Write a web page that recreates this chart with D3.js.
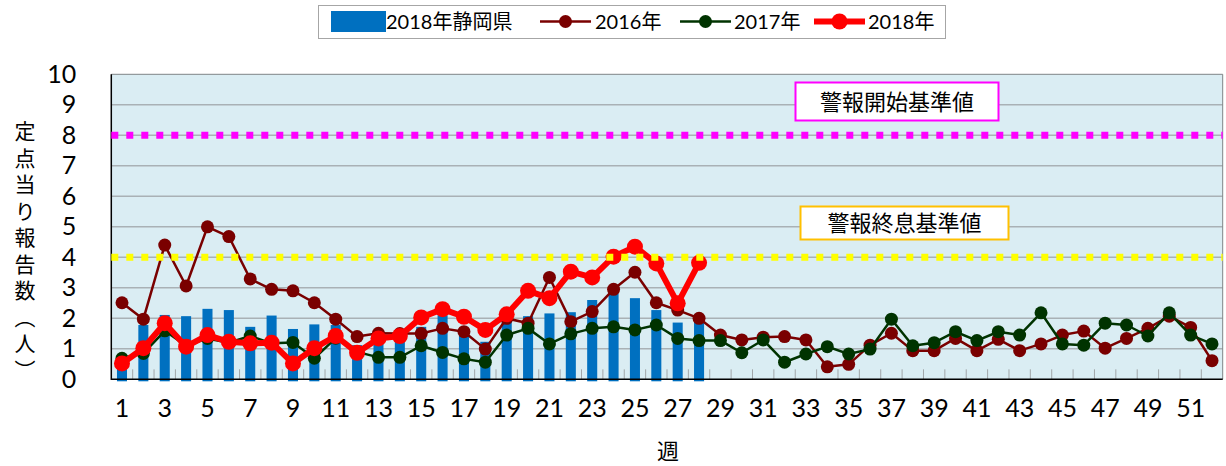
<!DOCTYPE html>
<html>
<head>
<meta charset="utf-8">
<script src="https://cdn.jsdelivr.net/npm/d3@7"></script>
<style>
  body { margin: 0; background: #fff; }
  svg text { fill: #000; }
</style>
</head>
<body>
<div id="chart"></div>
<script>
// weekly reports per sentinel
const weeks = d3.range(1, 53);
const weekLabels = weeks.filter(w => w % 2 === 1);
const yTicks = d3.range(0, 11);

const pref2018 = [0.55, 1.78, 2.11, 2.07, 2.31, 2.27, 1.72, 2.09, 1.65, 1.8, 1.78, 1.12, 1.6, 1.5,
  1.72, 2.1, 1.66, 1.23, 1.95, 2.07, 2.16, 2.2, 2.6, 2.82, 2.66, 2.27, 1.86, 1.89];

const s2016 = [2.51, 1.97, 4.4, 3.06, 5.0, 4.68, 3.29, 2.95, 2.9, 2.51, 1.97, 1.4, 1.51, 1.5,
  1.5, 1.67, 1.56, 0.99, 2.0, 1.84, 3.34, 1.89, 2.22, 2.95, 3.51, 2.51, 2.27, 2.0,
  1.45, 1.29, 1.38, 1.4, 1.29, 0.41, 0.49, 1.12, 1.51, 0.94, 0.94, 1.34, 0.94, 1.31,
  0.94, 1.16, 1.45, 1.58, 1.02, 1.34, 1.67, 2.07, 1.7, 0.61];

const s2017 = [0.69, 0.85, 1.59, 1.1, 1.34, 1.2, 1.42, 1.18, 1.21, 0.69, 1.35, 0.9, 0.72, 0.72,
  1.1, 0.88, 0.67, 0.56, 1.45, 1.67, 1.16, 1.49, 1.67, 1.72, 1.62, 1.78, 1.34, 1.27,
  1.27, 0.87, 1.29, 0.56, 0.83, 1.07, 0.83, 0.99, 1.97, 1.1, 1.2, 1.56, 1.27, 1.56,
  1.45, 2.18, 1.16, 1.12, 1.84, 1.78, 1.42, 2.18, 1.45, 1.16];

const s2018 = [0.52, 1.02, 1.84, 1.07, 1.45, 1.23, 1.18, 1.2, 0.52, 1.02, 1.42, 0.87, 1.34, 1.42,
  2.03, 2.3, 2.05, 1.62, 2.13, 2.9, 2.66, 3.53, 3.34, 4.02, 4.35, 3.8, 2.49, 3.82];

const alertStart = 8;
const alertEnd = 4;

const W = 1226, H = 466;
const pLeft = 111.3, pRight = 1222.7, pTop = 74.3, pBottom = 379.3;

const svg = d3.select("#chart").append("svg")
  .attr("width", W)
  .attr("height", H);

const x = d3.scaleBand().domain(weeks).range([pLeft, pRight])
  .paddingInner(0.53).paddingOuter(0.265);
const y = d3.scaleLinear().domain([0, 10]).range([pBottom, pTop]);
const cx = w => x(w) + x.bandwidth() / 2;

// plot background
svg.append("rect")
  .attr("x", pLeft).attr("y", pTop)
  .attr("width", pRight - pLeft).attr("height", pBottom - pTop)
  .attr("fill", "#daedf3");

// gridlines
svg.append("g")
  .selectAll("line")
  .data(yTicks.filter(v => v > 0 && v < 10))
  .enter().append("line")
  .attr("x1", pLeft).attr("x2", pRight)
  .attr("y1", d => y(d)).attr("y2", d => y(d))
  .attr("stroke", "#a9b1b5")
  .attr("stroke-width", 1.5);

// top and right border
svg.append("path")
  .attr("d", `M${pLeft},${pTop}H${pRight}V${pBottom}`)
  .attr("fill", "none")
  .attr("stroke", "#7f8487")
  .attr("stroke-width", 1);

// small inner ticks between weeks
svg.append("g")
  .selectAll("line")
  .data(weeks.slice(1))
  .enter().append("line")
  .attr("x1", d => x(d) - x.step() * x.paddingInner() / 2)
  .attr("x2", d => x(d) - x.step() * x.paddingInner() / 2)
  .attr("y1", pBottom).attr("y2", pBottom - 10)
  .attr("stroke", "#a0a6a9")
  .attr("stroke-width", 1);

// bars
svg.append("g")
  .selectAll("rect")
  .data(pref2018)
  .enter().append("rect")
  .attr("x", (d, i) => x(weeks[i]))
  .attr("y", d => y(d))
  .attr("width", x.bandwidth())
  .attr("height", d => y(0) - y(d) + 2)
  .attr("fill", "#0070c0");

// axis lines
svg.append("path")
  .attr("d", `M${pLeft},${pTop}V${pBottom}H${pRight}`)
  .attr("fill", "none")
  .attr("stroke", "#000")
  .attr("stroke-width", 1.5);

function drawSeries(values, color, lw, r) {
  const line = d3.line()
    .x((d, i) => cx(weeks[i]))
    .y(d => y(d));
  const g = svg.append("g");
  g.append("path")
    .datum(values)
    .attr("d", line)
    .attr("fill", "none")
    .attr("stroke", color)
    .attr("stroke-width", lw)
    .attr("stroke-linejoin", "round");
  g.selectAll("circle")
    .data(values)
    .enter().append("circle")
    .attr("cx", (d, i) => cx(weeks[i]))
    .attr("cy", d => y(d))
    .attr("r", r)
    .attr("fill", color);
}

drawSeries(s2016, "#7a0000", 2.5, 6.5);
drawSeries(s2017, "#003300", 2.5, 6.5);
drawSeries(s2018, "#ff0000", 6, 8);

// threshold lines (dotted squares)
svg.append("line")
  .attr("x1", pLeft).attr("x2", pRight)
  .attr("y1", y(alertStart)).attr("y2", y(alertStart))
  .attr("stroke", "#ff00ff").attr("stroke-width", 7)
  .attr("stroke-dasharray", "7,8");
svg.append("line")
  .attr("x1", pLeft).attr("x2", pRight)
  .attr("y1", y(alertEnd)).attr("y2", y(alertEnd))
  .attr("stroke", "#ffff00").attr("stroke-width", 7)
  .attr("stroke-dasharray", "7,8");

// annotation boxes
function note(x0, y0, w, h, stroke, label) {
  svg.append("rect")
    .attr("x", x0).attr("y", y0).attr("width", w).attr("height", h)
    .attr("fill", "#fff").attr("stroke", stroke).attr("stroke-width", 2);
  svg.append("text")
    .attr("x", x0 + w / 2).attr("y", y0 + h / 2 + 8)
    .attr("text-anchor", "middle")
    .attr("font-family", "Noto Sans CJK JP")
    .attr("font-size", 22)
    .text(label);
}
note(795.5, 82.5, 203, 38, "#ff00ff", "警報開始基準値");
note(800.5, 206.5, 208, 33, "#ffc000", "警報終息基準値");

// y axis labels
const yAxis = svg.append("g")
  .attr("transform", `translate(${pLeft},0)`)
  .call(d3.axisLeft(y).tickValues(yTicks).tickSize(0).tickPadding(35).tickFormat(d3.format("d")));
yAxis.select(".domain").remove();
yAxis.selectAll("text")
  .attr("font-family", "Lato, 'Open Sans', sans-serif")
  .attr("font-size", 25);

// x axis labels
const xAxis = svg.append("g")
  .attr("transform", `translate(0,${pBottom})`)
  .call(d3.axisBottom(x).tickValues(weekLabels).tickSize(0).tickPadding(20));
xAxis.select(".domain").remove();
xAxis.selectAll("text")
  .attr("font-family", "Lato, 'Open Sans', sans-serif")
  .attr("font-size", 25);

// axis titles
svg.append("text")
  .attr("x", 668).attr("y", 459)
  .attr("text-anchor", "middle")
  .attr("font-family", "Noto Sans CJK JP")
  .attr("font-size", 22)
  .text("週");

svg.append("text")
  .attr("x", 25).attr("y", 121)
  .attr("font-family", "Noto Sans CJK JP")
  .attr("font-size", 21)
  .attr("letter-spacing", 5.5)
  .style("writing-mode", "vertical-rl")
  .text("定点当り報告数（人）");

// legend
const lg = svg.append("g");
lg.append("rect")
  .attr("x", 318.5).attr("y", 5.5).attr("width", 627).attr("height", 33)
  .attr("fill", "#fff").attr("stroke", "#a6a6a6").attr("stroke-width", 1);
lg.append("rect")
  .attr("x", 331).attr("y", 11).attr("width", 55).attr("height", 21)
  .attr("fill", "#0070c0");
const legendItems = [
  { label: "2018年静岡県", tx: 386 },
  { label: "2016年", tx: 595, color: "#7a0000", lw: 2.5, r: 6.5, x0: 540 },
  { label: "2017年", tx: 734, color: "#003300", lw: 2.5, r: 6.5, x0: 680 },
  { label: "2018年", tx: 868, color: "#ff0000", lw: 6, r: 8, x0: 814 }
];
legendItems.forEach(it => {
  if (it.color) {
    lg.append("line")
      .attr("x1", it.x0).attr("x2", it.x0 + 51)
      .attr("y1", 21.5).attr("y2", 21.5)
      .attr("stroke", it.color).attr("stroke-width", it.lw);
    lg.append("circle")
      .attr("cx", it.x0 + 25.5).attr("cy", 21.5).attr("r", it.r)
      .attr("fill", it.color);
  }
  lg.append("text")
    .attr("x", it.tx).attr("y", 29)
    .attr("font-family", "Lato, 'Noto Sans CJK JP', sans-serif")
    .attr("font-size", 20)
    .text(it.label);
});
</script>
</body>
</html>
